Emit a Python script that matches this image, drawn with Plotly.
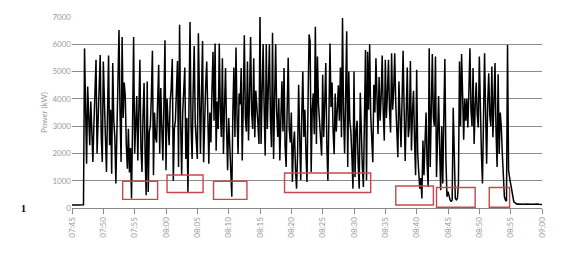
import pandas as pd
import plotly.graph_objects as go

# Power readings (kW), one every 10 seconds from 07:45:00 to 09:00:00 (one row per minute)
start_time = "2020-01-01 07:45:00"
sample_seconds = 10
power_kw = [
    110, 105, 110, 115, 110, 110,
    110, 115, 110, 115, 120, 120,
    5850, 3000, 1620, 4450, 3300, 2300,
    3900, 2600, 1690, 3100, 4200, 5430,
    2000, 3300, 3800, 5610, 2600, 1690,
    5370, 3400, 2600, 1320, 3900, 5590,
    2300, 3600, 1260, 5310, 3200, 2600,
    900, 2800, 4000, 6520, 3500, 1690,
    6270, 3300, 4600, 4100, 2300, 1440,
    2900, 1300, 2200, 350, 3100, 6270,
    2000, 3300, 4100, 1740, 3600, 5430,
    2200, 1320, 3400, 4580, 2000, 470,
    4640, 590, 2800, 3000, 4100, 5760,
    1200, 3500, 2600, 2400, 3900, 5250,
    2000, 4400, 2900, 1740, 3800, 6150,
    1380, 4000, 3100, 2300, 3900, 4400,
    5460, 1000, 2900, 3200, 4300, 5390,
    1500, 6720, 3200, 1200, 3500, 4200,
    5150, 1800, 3300, 590, 4100, 6820,
    3000, 1800, 4300, 5940, 3100, 2500,
    1800, 6400, 3400, 1980, 4200, 6120,
    1680, 3600, 4500, 5370, 2700, 1620,
    3500, 2400, 4300, 5730, 3200, 6030,
    2100, 3900, 2900, 6030, 3600, 2600,
    5490, 1980, 3700, 5130, 2900, 1380,
    3300, 2200, 1200, 410, 3500, 5150,
    2600, 5880, 3400, 1980, 4200, 3800,
    5130, 1740, 3900, 6330, 3300, 2800,
    5370, 2470, 4100, 6270, 3500, 2900,
    5490, 2590, 4300, 3800, 3100, 2350,
    7120, 2350, 4200, 6000, 3600, 1920,
    6000, 2900, 4400, 6000, 3300, 2230,
    6420, 1800, 3900, 6000, 3500, 2600,
    4000, 1740, 3300, 4640, 2800, 5130,
    2300, 1500, 3600, 5510, 2900, 2400,
    3500, 950, 2300, 2800, 1400, 710,
    2000, 4520, 2600, 1020, 3400, 5000,
    2600, 3600, 2000, 950, 3900, 6360,
    6090, 1320, 3600, 4200, 2700, 6640,
    2350, 5550, 3800, 3000, 2600, 1920,
    4880, 2600, 3900, 5310, 2300, 1000,
    3400, 6030, 3700, 4600, 2800, 1970,
    4200, 2800, 3600, 4500, 3200, 5150,
    2590, 6960, 3400, 2000, 4100, 6480,
    1500, 5000, 3200, 2800, 1900, 710,
    5000, 1140, 2800, 3200, 1600, 710,
    4220, 2400, 1500, 770, 3300, 5790,
    1020, 5730, 3600, 6000, 3400, 2500,
    1680, 4520, 3500, 5490, 3800, 2710,
    4800, 3200, 4100, 5590, 3500, 2470,
    5430, 3300, 4200, 5430, 3600, 2770,
    5670, 3600, 4300, 5670, 3800, 2900,
    1860, 4640, 3200, 2230, 3900, 5760,
    3600, 1720, 3400, 5150, 2600, 3000,
    5390, 2110, 3500, 4300, 2400, 1200,
    5070, 2000, 1300, 710, 1100, 350,
    2470, 1200, 2400, 3500, 1600, 770,
    5850, 1500, 3600, 5640, 3300, 3000,
    5550, 1140, 2600, 4100, 2200, 650,
    3000, 900, 3300, 5460, 1800, 410,
    600, 400, 300, 230, 300, 3670,
    1200, 350, 300, 350, 900, 5370,
    3000, 5640, 4160, 2500, 4000, 3200,
    4000, 2950, 4300, 5850, 3600, 3000,
    5130, 2350, 3700, 4600, 3400, 2950,
    5550, 3300, 2000, 900, 3700, 5670,
    3500, 1620, 3800, 4940, 3400, 3000,
    5190, 2590, 3900, 5310, 2800, 1500,
    4900, 1980, 3500, 3000, 2000, 900,
    410, 290, 250, 5970, 1380, 1100,
    900, 600, 410, 230, 200, 170,
    140, 145, 140, 140, 145, 140,
    140, 140, 145, 140, 140, 145,
    140, 145, 140, 140, 145, 140,
    140, 140, 145, 140, 140, 145,
    130,
]

# Highlighted low-power windows: (start, end, low kW, high kW)
window_starts = ["07:53:05", "08:00:10", "08:07:35", "08:18:55", "08:36:40", "08:43:10", "08:51:35"]
window_ends = ["07:58:40", "08:05:55", "08:12:55", "08:32:40", "08:42:40", "08:49:20", "08:54:50"]
window_lows = [316, 569, 316, 569, 109, 25, 25]
window_highs = [979, 1208, 979, 1281, 809, 751, 751]

y_ticks = [0, 1000, 2000, 3000, 4000, 5000, 6000, 7000]

times = pd.date_range(start=start_time, periods=len(power_kw), freq=f"{sample_seconds}s")
day = "2020-01-01 "

fig = go.Figure()
fig.add_trace(go.Scatter(
    x=times, y=power_kw, mode="lines",
    line=dict(color="black", width=1.5),
    showlegend=False, hoverinfo="skip",
))

for s, e, lo, hi in zip(window_starts, window_ends, window_lows, window_highs):
    fig.add_shape(type="rect", xref="x", yref="y",
                  x0=day + s, x1=day + e, y0=lo, y1=hi,
                  line=dict(color="#c9474a", width=1.4), fillcolor="rgba(0,0,0,0)")

fig.add_annotation(text="<b>1</b>", xref="paper", yref="paper", x=-0.103, y=0.0,
                   xanchor="center", yanchor="middle", showarrow=False,
                   font=dict(family="Liberation Serif", size=10, color="#000000"))

grey = "#9a9a9a"
fig.update_layout(
    width=562, height=253,
    margin=dict(l=72, r=20, t=15, b=45),
    paper_bgcolor="white", plot_bgcolor="white",
    font=dict(family="Lato, Open Sans, sans-serif", size=8, color=grey),
    xaxis=dict(
        range=[day + "07:45:00", day + "09:00:00"],
        tick0=day + "07:45:00", dtick=300000, tickformat="%H:%M",
        tickangle=-90, showgrid=False, showline=True, linecolor="#888",
        linewidth=1, ticks="outside", ticklen=5, tickcolor="#888",
        tickfont=dict(size=8, color=grey), zeroline=False,
    ),
    yaxis=dict(
        range=[0, 7000], tickvals=y_ticks, showgrid=True, gridcolor="#8c8c8c",
        gridwidth=1, zeroline=False, showline=False, ticks="",
        tickfont=dict(size=8, color=grey),
        title=dict(text="Power (kW)", font=dict(size=8, color=grey), standoff=3),
    ),
)

fig.write_html("out.html")
